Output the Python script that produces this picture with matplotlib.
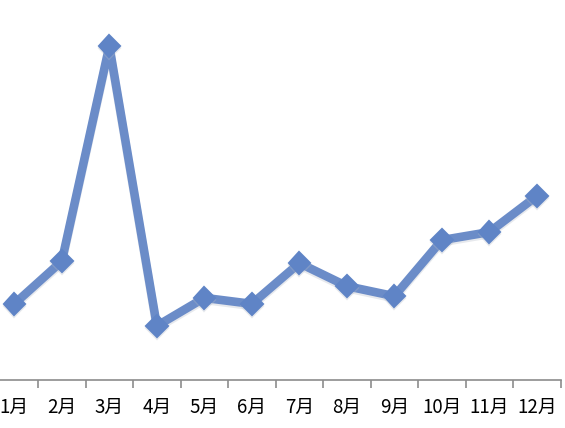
import matplotlib.pyplot as plt
import matplotlib.patheffects as pe

plt.rcParams['font.family'] = ['Noto Sans CJK JP', 'DejaVu Sans']

months = ['1月', '2月', '3月', '4月', '5月', '6月', '7月', '8月', '9月', '10月', '11月', '12月']
values = [22.8, 35.6, 100.0, 16.2, 24.6, 22.8, 35.0, 28.1, 25.1, 41.9, 44.3, 55.1]

fig = plt.figure(figsize=(5.65, 4.28), dpi=100)
ax = fig.add_axes([-9.4 / 565, 48 / 428, 570 / 565, 380 / 428])

x = range(len(months))
ax.plot(x, values, color='#6b8cc8', linewidth=6.2, marker='D', markersize=11,
        markerfacecolor='#5f84c6', markeredgecolor='#5f84c6', markeredgewidth=1.5,
        solid_joinstyle='round',
        path_effects=[pe.SimpleLineShadow(offset=(0, -1.5), shadow_color='#b0b8c4', alpha=0.3),
                      pe.Normal()])

ax.set_xlim(-0.5, 11.5)
ax.set_ylim(0, 113.8)

for s in ['top', 'right', 'left']:
    ax.spines[s].set_visible(False)
ax.spines['bottom'].set_color('#8c8c8c')
ax.spines['bottom'].set_linewidth(1.2)
ax.set_yticks([])

# labels at category centres, tick marks between categories
ax.set_xticks(list(x))
ax.set_xticklabels(months, fontsize=13.5)
ax.set_xticks([i - 0.5 for i in range(len(months) + 1)], minor=True)
ax.tick_params(axis='x', which='major', length=0, pad=12)
ax.tick_params(axis='x', which='minor', length=6, width=1.2, color='#8c8c8c', direction='out')

fig.savefig('out.png', dpi=100)
